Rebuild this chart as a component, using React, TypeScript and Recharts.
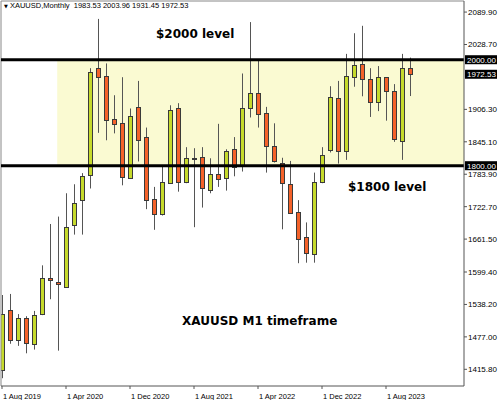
import React from "react";
import { ComposedChart, Bar, XAxis, YAxis, ReferenceArea, ReferenceLine } from "recharts";

// monthly XAUUSD candles, Aug 2019 .. Nov 2023
const opens = [1415, 1527, 1472, 1512, 1463, 1521, 1589, 1581, 1572, 1688, 1735, 1782, 1984, 1969, 1888, 1880,
  1777, 1910, 1855, 1737, 1708, 1767, 1908, 1770, 1814, 1816, 1755, 1784, 1776, 1831, 1801, 1908, 1938, 1899,
  1837, 1806, 1765, 1712, 1665, 1633, 1770, 1830, 1927, 1828, 1968, 1991, 1963, 1920, 1967, 1941, 1847, 1983.53];
const highs = [1556, 1558, 1520, 1516, 1526, 1612, 1690, 1704, 1748, 1765, 1786, 1984, 2077, 1993, 1933, 1967,
  1908, 1960, 1872, 1760, 1798, 1914, 1918, 1835, 1833, 1835, 1814, 1879, 1831, 1854, 1974, 2071, 1998, 1911,
  1880, 1815, 1809, 1735, 1693, 1787, 1835, 1950, 1960, 2011, 2050, 2064, 1984, 1988, 1967, 1954, 2011, 2003.96];
const lows = [1399, 1464, 1460, 1446, 1453, 1518, 1548, 1451, 1572, 1670, 1670, 1757, 1862, 1848, 1861, 1763,
  1776, 1808, 1718, 1679, 1706, 1767, 1751, 1767, 1684, 1721, 1748, 1760, 1753, 1780, 1789, 1891, 1872, 1787,
  1806, 1680, 1710, 1616, 1617, 1617, 1767, 1825, 1804, 1811, 1949, 1931, 1892, 1903, 1885, 1845, 1811, 1931.45];
const closes = [1520, 1472, 1512, 1465, 1519, 1589, 1585, 1577, 1685, 1730, 1781, 1976, 1968, 1886, 1879, 1778,
  1894, 1848, 1735, 1708, 1769, 1906, 1770, 1814, 1813, 1757, 1784, 1775, 1828, 1798, 1908, 1937, 1897, 1838,
  1808, 1767, 1710, 1661, 1635, 1769, 1820, 1929, 1828, 1970, 1990, 1963, 1920, 1967, 1941, 1850, 1984, 1972.53];

const dateTicks = [0, 8, 16, 24, 32, 40, 48];
const dateLabels = ["1 Aug 2019", "1 Apr 2020", "1 Dec 2020", "1 Aug 2021", "1 Apr 2022", "1 Dec 2022", "1 Aug 2023"];
// 1967.50 sits under the live-price tag, so it is left out
const priceTicks = [1415.8, 1477.0, 1538.2, 1599.4, 1661.5, 1722.7, 1783.9, 1845.1, 1906.3, 2028.7, 2089.9];

const Y_MIN = 1384.3;
const Y_MAX = 2110.8;
const X_MIN = -0.125;
const X_MAX = 57.75;

const GREEN = "#c6da2c";
const ORANGE = "#f4622a";
const BAND = "#fafad2";
const FONT = "'Liberation Sans', Arial, sans-serif";

const data = opens.map((o, i) => ({
  i, open: o, high: highs[i], low: lows[i], close: closes[i],
  range: [lows[i], highs[i]],
}));

function Candle(props: any) {
  const { x, y, width, height, payload } = props;
  const { open, close, high, low } = payload;
  const top = Math.min(y, y + height);
  const h = Math.abs(height);
  const span = high - low || 1;
  const py = (p: number) => top + ((high - p) / span) * h;
  const px = Math.round(x + width / 2);
  const bTop = Math.round(py(Math.max(open, close)));
  const bBot = Math.round(py(Math.min(open, close)));
  if (bBot - bTop < 1) {
    return (
      <g>
        <line x1={px + 0.5} x2={px + 0.5} y1={top} y2={top + h} stroke="#555" />
        <line x1={px - 2} x2={px + 3} y1={bTop + 0.5} y2={bTop + 0.5} stroke="#777" />
      </g>
    );
  }
  return (
    <g>
      <line x1={px + 0.5} x2={px + 0.5} y1={top} y2={top + h} stroke="#555" />
      <rect x={px - 1.5} y={bTop + 0.5} width={4} height={bBot - bTop}
        fill={close >= open ? GREEN : ORANGE} stroke="#3a3a3a" />
    </g>
  );
}

function DateTick(props: any) {
  const { x, y, payload } = props;
  const idx = dateTicks.indexOf(payload.value);
  return (
    <text x={x + 1} y={y + 8} fontSize={7.5} fontFamily={FONT} fill="#000" textAnchor="start">
      {dateLabels[idx]}
    </text>
  );
}

function priceTag(text: string) {
  return (p: any) => {
    const vb = p.viewBox || {};
    const x = vb.x + vb.width + 1;
    const y = vb.y;
    return (
      <g>
        <rect x={x} y={y - 4.5} width={32} height={9} fill="#000" />
        <text x={x + 2} y={y + 3} fontSize={8} fontFamily={FONT} fill="#fff">{text}</text>
      </g>
    );
  };
}

const noteStyle: React.CSSProperties = {
  position: "absolute", fontFamily: "'DejaVu Sans', Verdana, sans-serif", fontWeight: "bold",
  fontSize: 12, lineHeight: "12px", color: "#000", whiteSpace: "nowrap",
};

export default function App() {
  return (
    <div style={{ position: "fixed", left: 0, top: 0, width: 500, height: 400, background: "#fff" }}>
      <ComposedChart width={500} height={400} data={data} margin={{ top: 1, right: 0, bottom: 0, left: 1 }}>
        <ReferenceArea x1={6.9} x2={X_MAX} y1={1800} y2={2000} fill={BAND} fillOpacity={1} stroke="none" />
        <XAxis dataKey="i" type="number" domain={[X_MIN, X_MAX]} allowDataOverflow ticks={dateTicks} interval={0}
          height={14} tick={<DateTick />} tickSize={3} axisLine={{ stroke: "#555" }} tickLine={{ stroke: "#555" }} />
        <YAxis orientation="right" type="number" domain={[Y_MIN, Y_MAX]} allowDataOverflow ticks={priceTicks} interval={0}
          width={36} tickSize={3} tickMargin={1} axisLine={{ stroke: "#555" }} tickLine={{ stroke: "#555" }}
          tickFormatter={(v: number) => v.toFixed(2)}
          tick={{ fontSize: 8, fontFamily: FONT, fill: "#000", textAnchor: "start" }} />
        <ReferenceLine y={Y_MAX} stroke="#888" />
        <ReferenceLine x={X_MIN} stroke="#888" />
        <Bar dataKey="range" barSize={5} shape={<Candle />} isAnimationActive={false} />
        <ReferenceLine y={2000} stroke="#000" strokeWidth={3} label={priceTag("2000.00")} />
        <ReferenceLine y={1800} stroke="#000" strokeWidth={3} label={priceTag("1800.00")} />
        <ReferenceLine y={1972.53} stroke="none" label={priceTag("1972.53")} />
      </ComposedChart>
      <div style={{ position: "absolute", left: 4, top: 1, fontFamily: FONT, fontSize: 7.5, lineHeight: "9px", whiteSpace: "nowrap" }}>
        <span style={{ fontFamily: "'DejaVu Sans'", fontSize: 5 }}>▼</span> XAUUSD,Monthly&nbsp; 1983.53 2003.96 1931.45 1972.53
      </div>
      <div style={{ ...noteStyle, left: 156, top: 28 }}>$2000 level</div>
      <div style={{ ...noteStyle, left: 348, top: 181 }}>$1800 level</div>
      <div style={{ ...noteStyle, left: 182, top: 315 }}>XAUUSD M1 timeframe</div>
    </div>
  );
}
